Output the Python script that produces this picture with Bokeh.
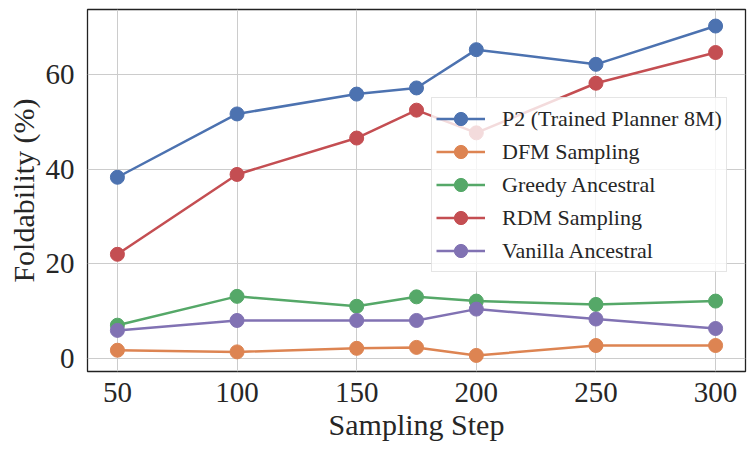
from bokeh.plotting import figure
from bokeh.models import Range1d, FixedTicker
from bokeh.embed import file_html
from bokeh.resources import INLINE

# Foldability (%) per sampling step for each decoding strategy
steps = [50, 100, 150, 175, 200, 250, 300]
p2_planner = [38.3, 51.7, 55.9, 57.2, 65.3, 62.2, 70.3]
dfm_sampling = [1.7, 1.35, 2.1, 2.3, 0.6, 2.7, 2.7]
greedy_ancestral = [7.0, 13.1, 11.0, 13.0, 12.1, 11.4, 12.1]
rdm_sampling = [22.0, 38.9, 46.6, 52.5, 47.7, 58.2, 64.7]
vanilla_ancestral = [5.9, 8.0, 8.0, 8.0, 10.4, 8.3, 6.3]

series_names = ["P2 (Trained Planner 8M)", "DFM Sampling", "Greedy Ancestral",
                "RDM Sampling", "Vanilla Ancestral"]
series_values = [p2_planner, dfm_sampling, greedy_ancestral, rdm_sampling, vanilla_ancestral]
colors = ["#4C72B0", "#DD8452", "#55A868", "#C44E52", "#8172B3"]

x_ticks = [50, 100, 150, 200, 250, 300]
y_ticks = [0, 20, 40, 60]

FONT = "Liberation Serif"
TEXT_COLOR = "#262626"

p = figure(width=753, height=453, output_backend="svg", toolbar_location=None,
           x_range=Range1d(37.5, 312.5), y_range=Range1d(-2.8, 73.8),
           min_border_left=87, min_border_right=8, min_border_top=9,
           min_border_bottom=82, background_fill_color="white",
           border_fill_color="white")

for name, vals, col in zip(series_names, series_values, colors):
    p.line(steps, vals, line_color=col, line_width=2.5, legend_label=name)
    p.scatter(steps, vals, marker="circle", size=14, fill_color=col,
              line_color=col, legend_label=name)

p.outline_line_color = "#222222"
p.outline_line_width = 1.3

p.xaxis.ticker = FixedTicker(ticks=x_ticks)
p.yaxis.ticker = FixedTicker(ticks=y_ticks)
for ax in (p.xaxis[0], p.yaxis[0]):
    ax.axis_line_color = None
    ax.major_tick_line_color = None
    ax.minor_tick_line_color = None
    ax.major_tick_out = 0
    ax.major_tick_in = 0
    ax.minor_tick_out = 0
    ax.minor_tick_in = 0
    ax.major_label_text_font = FONT
    ax.major_label_text_font_size = "29px"
    ax.major_label_text_color = TEXT_COLOR
    ax.axis_label_text_font = FONT
    ax.axis_label_text_font_size = "30px"
    ax.axis_label_text_font_style = "normal"
    ax.axis_label_text_color = TEXT_COLOR

p.xaxis.axis_label = "Sampling Step"
p.yaxis.axis_label = "Foldability (%)"
p.xaxis.major_label_standoff = 11
p.yaxis.major_label_standoff = 13
p.xaxis.axis_label_standoff = 3
p.yaxis.axis_label_standoff = 3

p.grid.grid_line_color = "#cccccc"
p.grid.grid_line_width = 1

lg = p.legend[0]
lg.location = (344, 99)
lg.label_text_font = FONT
lg.label_text_font_size = "22px"
lg.label_text_color = TEXT_COLOR
lg.glyph_width = 49
lg.glyph_height = 33
lg.label_height = 22
lg.label_standoff = 17
lg.spacing = -1
lg.padding = 4
lg.margin = 0
lg.background_fill_color = "white"
lg.background_fill_alpha = 0.8
lg.border_line_color = "#cccccc"
lg.border_line_width = 1

open("out.html", "w").write(file_html(p, INLINE))
